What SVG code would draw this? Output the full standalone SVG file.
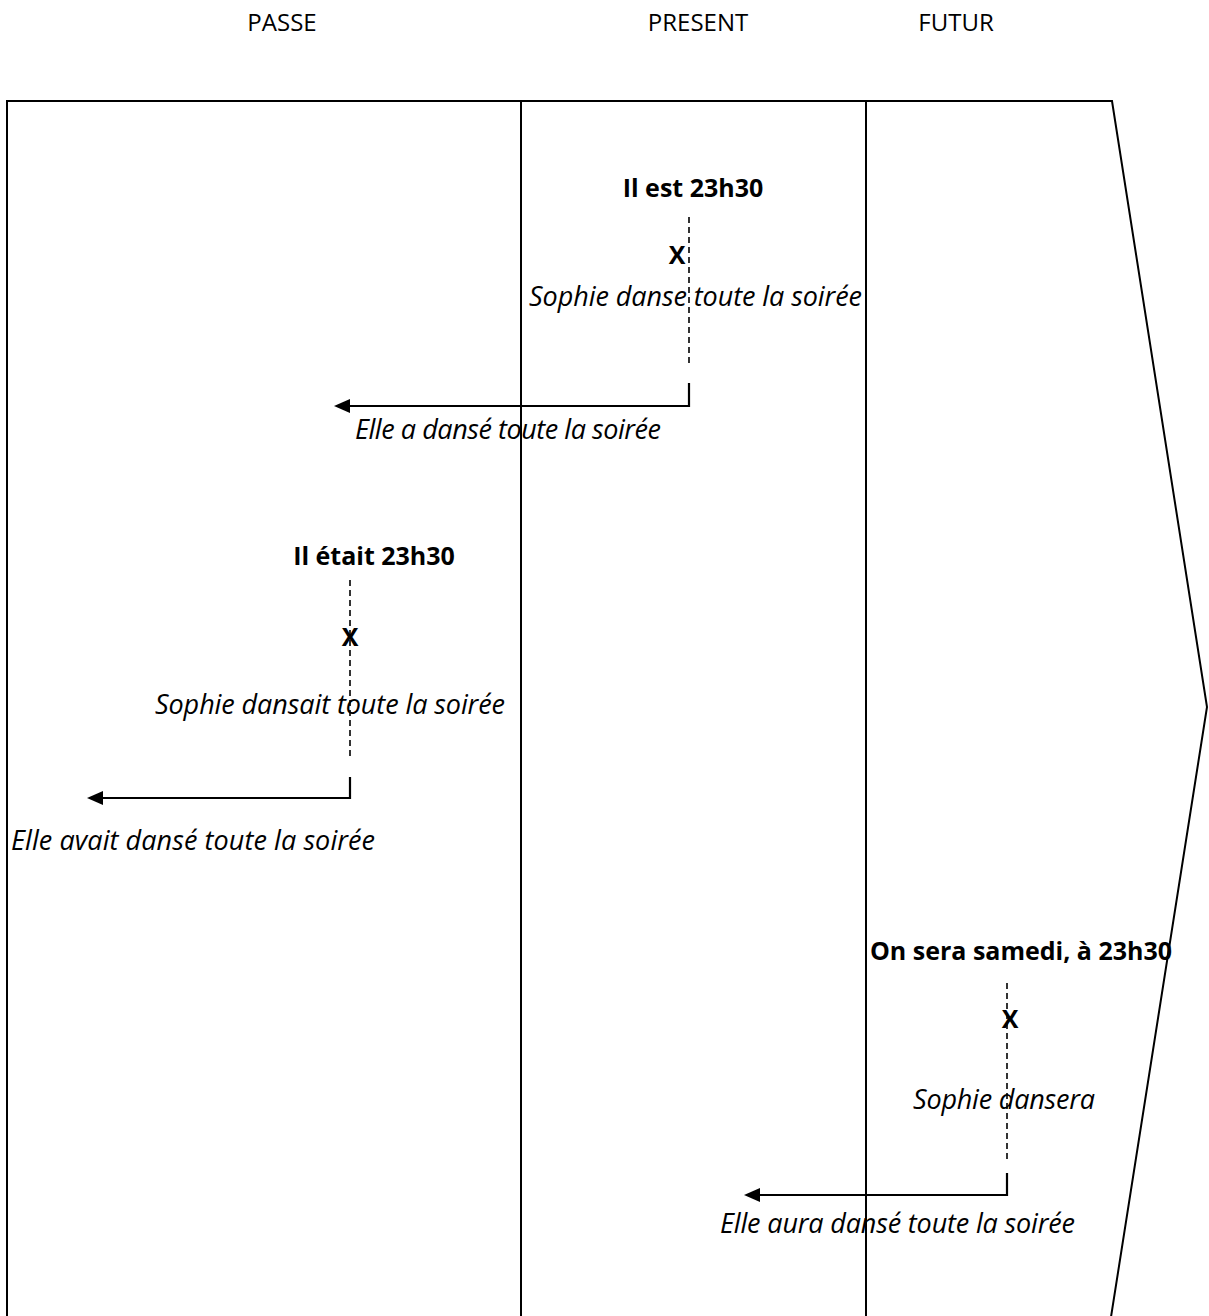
<svg xmlns="http://www.w3.org/2000/svg" width="1209" height="1316" viewBox="0 0 1209 1316">
<style>
text{font-family:"Open Sans","Liberation Sans",sans-serif;font-size:24px;fill:#000}
.h{font-size:24px;text-anchor:middle}
.b{font-weight:bold;font-size:25px;text-anchor:middle}
.i{font-style:italic;font-size:27px}
.frame{fill:none;stroke:#000;stroke-width:2}
.dash{fill:none;stroke:#000;stroke-width:1.6;stroke-dasharray:6 4}
.arr{fill:none;stroke:#000;stroke-width:2.2;marker-end:url(#ah)}
</style>
<defs>
<marker id="ah" markerUnits="userSpaceOnUse" markerWidth="16" markerHeight="14" refX="6" refY="7" orient="auto">
<path d="M0,0 L16,7 L0,14 z" fill="#000"/>
</marker>
</defs>
<rect width="1209" height="1316" fill="#fff"/>
<g id="frame">
<polyline class="frame" points="7,1317 7,101 1112,101 1207,707 1111,1317"/>
<line class="frame" x1="521" y1="101" x2="521" y2="1317"/>
<line class="frame" x1="866" y1="101" x2="866" y2="1317"/>
</g>
<g id="headers">
<text class="h" x="282" y="31">PASSE</text>
<text class="h" x="698" y="31">PRESENT</text>
<text class="h" x="956" y="31">FUTUR</text>
</g>
<g id="present">
<text class="b" x="693" y="197">Il est 23h30</text>
<text class="b" x="677" y="264">X</text>
<text class="i" x="529" y="306" textLength="333">Sophie danse toute la soirée</text>
<text class="i" x="355" y="439" textLength="306">Elle a dansé toute la soirée</text>
</g>
<g id="passe">
<text class="b" x="374" y="565">Il était 23h30</text>
<text class="b" x="350" y="646">X</text>
<text class="i" x="155" y="714" textLength="350">Sophie dansait toute la soirée</text>
<text class="i" x="11" y="850" textLength="364">Elle avait dansé toute la soirée</text>
</g>
<g id="futur">
<text class="b" x="1021" y="960">On sera samedi, à 23h30</text>
<text class="b" x="1010" y="1028">X</text>
<text class="i" x="913" y="1109" textLength="182">Sophie dansera</text>
<text class="i" x="720" y="1233" textLength="355">Elle aura dansé toute la soirée</text>
</g>
<g id="connectors">
<line class="dash" x1="689" y1="217" x2="689" y2="366"/>
<polyline class="arr" points="689,383 689,406 344,406"/>
<line class="dash" x1="350" y1="580" x2="350" y2="756"/>
<polyline class="arr" points="350,777 350,798 97,798"/>
<line class="dash" x1="1007" y1="983" x2="1007" y2="1161"/>
<polyline class="arr" points="1007,1173 1007,1195 754,1195"/>
</g>
</svg>
